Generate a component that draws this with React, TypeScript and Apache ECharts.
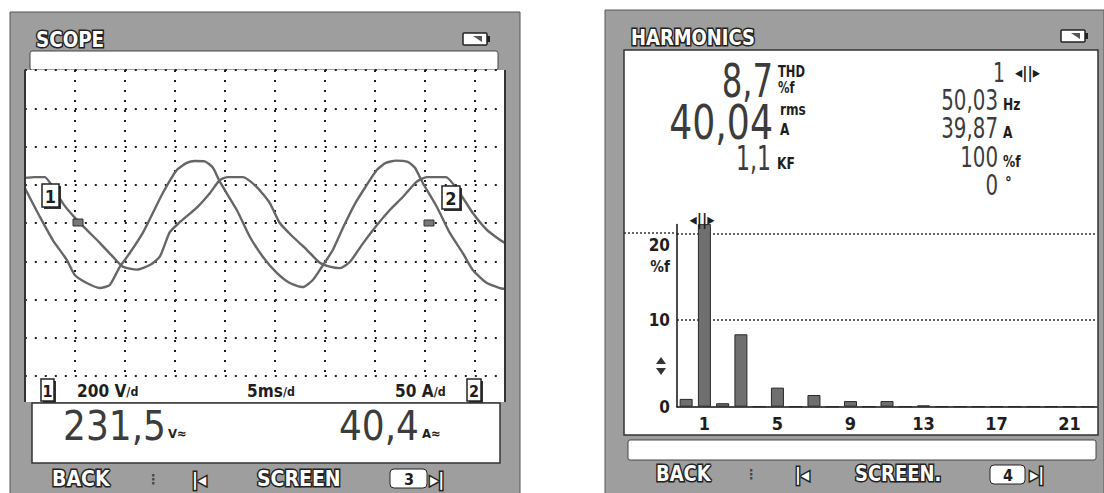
import React, { useEffect, useRef } from "react";
import * as echarts from "echarts";

// ---- Scope (left screen) data: time in ms, voltage in V, current in A ----
const voltageTimes = [0, 1.5, 2.8, 4.2, 5.0, 6.2, 7.5, 8.5, 9.5, 10.5, 11.8, 12.8, 13.8, 15.2, 16.2, 17.0, 18.0, 18.8, 19.5, 21.2, 22.5, 23.8, 25.2, 26.5, 27.8, 28.8, 29.7, 30.8, 31.9, 33.0, 34.0, 35.2, 36.1, 37.1, 38.3, 39.0, 39.8, 41.2, 42.5, 43.8, 44.8, 46.2, 47.5, 48.0];
const voltageValues = [183, 33, -89, -193, -272, -314, -340, -324, -229, -157, -52, 52, 157, 277, 314, 324, 322, 290, 216, 68, -72, -176, -261, -314, -335, -298, -230, -141, -16, 99, 183, 277, 314, 326, 319, 290, 209, 85, -52, -157, -246, -314, -340, -345];
const currentTimes = [0, 1.0, 2.0, 2.8, 3.9, 5.0, 6.2, 7.5, 8.8, 9.8, 11.2, 12.5, 13.5, 14.5, 15.5, 16.3, 17.2, 18.5, 19.5, 20.3, 21.8, 23.2, 24.5, 25.5, 26.8, 28.2, 29.5, 30.5, 31.5, 32.5, 33.8, 35.2, 36.5, 37.8, 39.2, 40.2, 42.1, 43.5, 44.8, 46.2, 47.5, 48.0];
const currentValues = [59, 60, 60, 47, 24, 7, -9, -26, -44, -57, -61, -55, -44, -12, 1, 10, 20, 39, 56, 60, 60, 47, 26, 0, -18, -35, -52, -57, -59, -51, -27, -3, 17, 34, 54, 60, 60, 39, 13, -9, -22, -26];

// ---- Harmonics (right screen) data ----
const harmonicOrders = ["0", "1", "2", "3", "4", "5", "6", "7", "8", "9", "10", "11", "12", "13", "14", "15", "16", "17", "18", "19", "20", "21", "22"];
const harmonicValues = [0.9, 100, 0.4, 8.35, 0, 2.2, 0, 1.35, 0, 0.65, 0, 0.65, 0, 0.15, 0, 0, 0, 0, 0, 0, 0, 0, 0];
const harmonicTickLabels = ["1", "5", "9", "13", "17", "21"];
const harmonicYTicks = [0, 10, 20];

const FONT = '"DejaVu Sans Condensed", "DejaVu Sans", sans-serif';
const FRAME = "#9e9e9e";
const INK = "#1e1e1e";
const DIGIT = "#3c3c3c";

function txt(x: number, y: number, text: string, size: number, opts: any = {}) {
  return {
    type: "text",
    x,
    y,
    scaleX: opts.sx ?? 1,
    z: opts.z ?? 20,
    style: {
      text,
      fontSize: size,
      fontWeight: opts.weight ?? "bold",
      fontFamily: opts.family ?? FONT,
      fill: opts.fill ?? INK,
      stroke: opts.stroke,
      lineWidth: opts.lineWidth,
      align: opts.align ?? "left",
      textAlign: opts.align ?? "left",
      verticalAlign: opts.va ?? "middle",
      textVerticalAlign: opts.va ?? "middle",
      rich: opts.rich,
    },
  };
}

// white text with dark outline (menu / title style)
function outlined(x: number, y: number, text: string, size: number, sx = 1, align = "left") {
  return [
    txt(x, y, text, size, { fill: "#222", stroke: "#222", lineWidth: 3, align, sx }),
    txt(x, y, text, size, { fill: "#ffffff", align, z: 21, sx }),
  ];
}

function rect(x: number, y: number, w: number, h: number, fill: string, stroke?: string, lw = 1, z = -10, r = 0) {
  return {
    type: "rect",
    z,
    shape: { x, y, width: w, height: h, r },
    style: { fill, stroke: stroke ?? "none", lineWidth: lw },
  };
}

function battery(x: number, y: number) {
  return [
    rect(x, y, 24, 12, "#fff", "#222", 1.5, 20, 1),
    rect(x + 24, y + 3, 3, 6, "#222", undefined, 1, 20),
    {
      type: "polygon",
      z: 21,
      shape: { points: [[x + 10, y + 3], [x + 19, y + 3], [x + 19, y + 9]] },
      style: { fill: "#555" },
    },
  ];
}

function boxedDigit(x: number, y: number, w: number, h: number, d: string, size: number) {
  return [
    rect(x + 2, y + 2, w, h, "#333", undefined, 1, 18),
    rect(x, y, w, h, "#fff", "#222", 1.5, 19),
    txt(x + w / 2, y + h / 2 + 1, d, size, { align: "center", z: 20 }),
  ];
}

function line(x1: number, y1: number, x2: number, y2: number, dash: number[] | null, color = "#333", w = 1.5) {
  return {
    type: "line",
    z: 5,
    shape: { x1, y1, x2, y2 },
    style: { stroke: color, lineWidth: w, lineDash: dash ?? undefined },
  };
}

const unitRich = (big: number, small: number) => ({
  a: { fontSize: big, fontWeight: "bold", fontFamily: FONT, fill: INK },
  b: { fontSize: small, fontWeight: "bold", fontFamily: FONT, fill: INK },
});

export default function App() {
  const ref = useRef<HTMLDivElement>(null);

  useEffect(() => {
    if (!ref.current) return;
    const chart = echarts.init(ref.current, undefined, { renderer: "svg" });

    const voltageData = voltageTimes.map((t, i) => [t, voltageValues[i]]);
    const currentData = currentTimes.map((t, i) => [t, currentValues[i]]);

    const graphics: any[] = [
      // ---------- left screen ----------
      rect(10, 12, 510, 490, FRAME, "#555", 1, -20),
      rect(30, 51, 468, 19, "#fff", "#444", 1, -10, 2),
      rect(25, 70, 480, 332, "#fff", undefined, 1, -10),
      line(25, 70, 25, 402, null, "#333", 2),
      line(505, 70, 505, 402, null, "#333", 2),
      rect(32, 403, 468, 60, "#fff", "#333", 1.5, -10),
      ...outlined(36, 40, "SCOPE", 21, 0.97),
      ...battery(463, 33),
      ...boxedDigit(42, 184, 17, 23, "1", 18),
      ...boxedDigit(442, 186, 18, 23, "2", 18),
      rect(73, 219, 10, 7, "#777", "#333", 1, 15),
      rect(424, 220, 10, 6, "#777", "#333", 1, 15),
      ...boxedDigit(41, 379, 13, 22, "1", 16),
      txt(77, 391, "{a|200 V}{b|/d}", 17, { rich: unitRich(18, 13), sx: 0.95 }),
      txt(247, 391, "{a|5ms}{b|/d}", 17, { rich: unitRich(18, 13), sx: 0.95 }),
      txt(395, 391, "{a|50 A}{b|/d}", 17, { rich: unitRich(18, 13), sx: 0.95 }),
      ...boxedDigit(467, 379, 14, 22, "2", 16),
      txt(166, 426, "231,5", 40, { align: "right", fill: DIGIT, weight: "normal" }),
      txt(168, 433, "V≈", 13),
      txt(419, 426, "40,4", 40, { align: "right", fill: DIGIT, weight: "normal" }),
      txt(422, 433, "A≈", 13),
      ...outlined(52, 479, "BACK", 21, 1.0),
      txt(147, 479, "⋮", 14, { fill: "#444" }),
      ...outlined(192, 479, "|◂", 18),
      ...outlined(257, 479, "SCREEN", 21, 1.0),
      rect(390, 469, 37, 19, "#fff", "#222", 1, 15, 4),
      txt(409, 479, "3", 16, { align: "center", z: 22 }),
      ...outlined(430, 479, "▸|", 18),

      // ---------- right screen ----------
      rect(605, 10, 499, 492, FRAME, "#555", 1, -20),
      rect(624, 50, 474, 385, "#fff", "#333", 1.5, -10),
      rect(628, 440, 468, 20, "#fff", "#444", 1, -10, 2),
      ...outlined(631, 38, "HARMONICS", 21, 0.95),
      ...battery(1061, 30),
      txt(773, 81, "8,7", 46, { align: "right", fill: DIGIT, weight: "normal", sx: 0.78 }),
      txt(778, 72, "THD", 15, { sx: 0.85 }),
      txt(778, 88, "%f", 15, { sx: 0.85 }),
      txt(773, 122, "40,04", 48, { align: "right", fill: DIGIT, weight: "normal", sx: 0.84 }),
      txt(780, 110, "rms", 15, { sx: 0.9 }),
      txt(780, 130, "A", 15, { sx: 0.9 }),
      txt(771, 159, "1,1", 34, { align: "right", fill: DIGIT, weight: "normal", sx: 0.72 }),
      txt(777, 163, "KF", 16, { sx: 0.85 }),
      txt(1005, 73, "1", 26, { align: "right", fill: DIGIT, weight: "normal", sx: 0.8 }),
      txt(1015, 72, "◂||▸", 16),
      txt(998, 100, "50,03", 29, { align: "right", fill: DIGIT, weight: "normal", sx: 0.76 }),
      txt(1003, 104, "Hz", 16, { sx: 0.85 }),
      txt(998, 128, "39,87", 29, { align: "right", fill: DIGIT, weight: "normal", sx: 0.76 }),
      txt(1003, 132, "A", 16, { sx: 0.85 }),
      txt(998, 157, "100", 29, { align: "right", fill: DIGIT, weight: "normal", sx: 0.76 }),
      txt(1003, 161, "%f", 16, { sx: 0.85 }),
      txt(998, 185, "0", 29, { align: "right", fill: DIGIT, weight: "normal", sx: 0.76 }),
      txt(1005, 183, "°", 15),
      txt(702, 219, "◂||▸", 16, { align: "center" }),
      line(624, 233, 677, 233, [2, 2]),
      txt(670, 267, "%f", 16, { align: "right", sx: 0.95 }),
      { type: "polygon", z: 20, shape: { points: [[656, 364], [666, 364], [661, 357]] }, style: { fill: "#333" } },
      { type: "polygon", z: 20, shape: { points: [[656, 368], [666, 368], [661, 375]] }, style: { fill: "#333" } },
      ...outlined(656, 474, "BACK", 21, 0.95),
      txt(745, 474, "⋮", 14, { fill: "#444" }),
      ...outlined(795, 474, "|◂", 18),
      ...outlined(855, 474, "SCREEN.", 21, 0.95),
      rect(990, 465, 35, 19, "#fff", "#222", 1, 15, 4),
      txt(1008, 475, "4", 16, { align: "center", z: 22 }),
      ...outlined(1030, 474, "▸|", 18),
    ];

    const labelRich = {
      n: { fontSize: 17, fontWeight: "bold", fontFamily: FONT, color: INK },
      lo: { fontSize: 17, fontWeight: "bold", fontFamily: FONT, color: INK, padding: [24, 0, 0, 0] },
    };

    const option: any = {
      animation: false,
      backgroundColor: "#ffffff",
      grid: [
        { left: 24.8, top: 70, width: 480, height: 306 },
        { left: 677, top: 224.6, width: 420, height: 182.1 },
      ],
      xAxis: [
        {
          type: "value",
          gridIndex: 0,
          min: 0,
          max: 48,
          interval: 5,
          axisLine: { show: false },
          axisTick: { show: false },
          axisLabel: { show: false },
          splitLine: { show: true, showMinLine: false, showMaxLine: false, lineStyle: { color: "#1e1e1e", width: 2, type: [2, 8] } },
        },
        {
          type: "category",
          gridIndex: 1,
          data: harmonicOrders,
          boundaryGap: true,
          axisLine: { show: true, lineStyle: { color: "#111", width: 1.5 } },
          axisTick: { show: false },
          axisLabel: {
            interval: (_i: number, v: string) => harmonicTickLabels.includes(v),
            margin: 8,
            fontSize: 18,
            fontWeight: "bold",
            fontFamily: FONT,
            color: INK,
          },
          splitLine: { show: false },
        },
      ],
      yAxis: [
        {
          type: "value",
          gridIndex: 0,
          min: -800,
          max: 800,
          interval: 200,
          axisLine: { show: false },
          axisTick: { show: false },
          axisLabel: { show: false },
          splitLine: { show: true, lineStyle: { color: "#1e1e1e", width: 2, type: [2, 8] } },
        },
        {
          type: "value",
          gridIndex: 0,
          min: -200,
          max: 200,
          interval: 50,
          axisLine: { show: false },
          axisTick: { show: false },
          axisLabel: { show: false },
          splitLine: { show: false },
        },
        {
          type: "value",
          gridIndex: 1,
          min: 0,
          max: 21,
          interval: 10,
          axisLine: { show: true, lineStyle: { color: "#111", width: 1.5 } },
          axisTick: { show: false },
          axisLabel: {
            margin: 7,
            formatter: (v: number) => {
              if (!harmonicYTicks.includes(v)) return "";
              return v === 20 ? "{lo|" + v + "}" : "{n|" + v + "}";
            },
            rich: labelRich,
          },
          splitLine: { show: true, showMinLine: false, showMaxLine: false, lineStyle: { color: "#333", width: 1.5, type: [2, 2] } },
        },
      ],
      series: [
        {
          type: "line",
          name: "U",
          xAxisIndex: 0,
          yAxisIndex: 0,
          data: voltageData,
          showSymbol: false,
          smooth: 0.2,
          lineStyle: { color: "#666", width: 2.4 },
          z: 3,
        },
        {
          type: "line",
          name: "I",
          xAxisIndex: 0,
          yAxisIndex: 1,
          data: currentData,
          showSymbol: false,
          smooth: 0.2,
          lineStyle: { color: "#666", width: 2.4 },
          z: 3,
        },
        {
          type: "bar",
          name: "%f",
          xAxisIndex: 1,
          yAxisIndex: 2,
          data: harmonicValues,
          barWidth: 13,
          itemStyle: { color: "#6f6f6f", borderColor: "#2a2a2a", borderWidth: 1 },
          z: 3,
        },
      ],
      graphic: graphics,
    };

    chart.setOption(option);
    return () => chart.dispose();
  }, []);

  return (
    <div
      ref={ref}
      style={{ position: "fixed", left: 0, top: 0, width: 1104, height: 493, background: "#fff" }}
    />
  );
}
